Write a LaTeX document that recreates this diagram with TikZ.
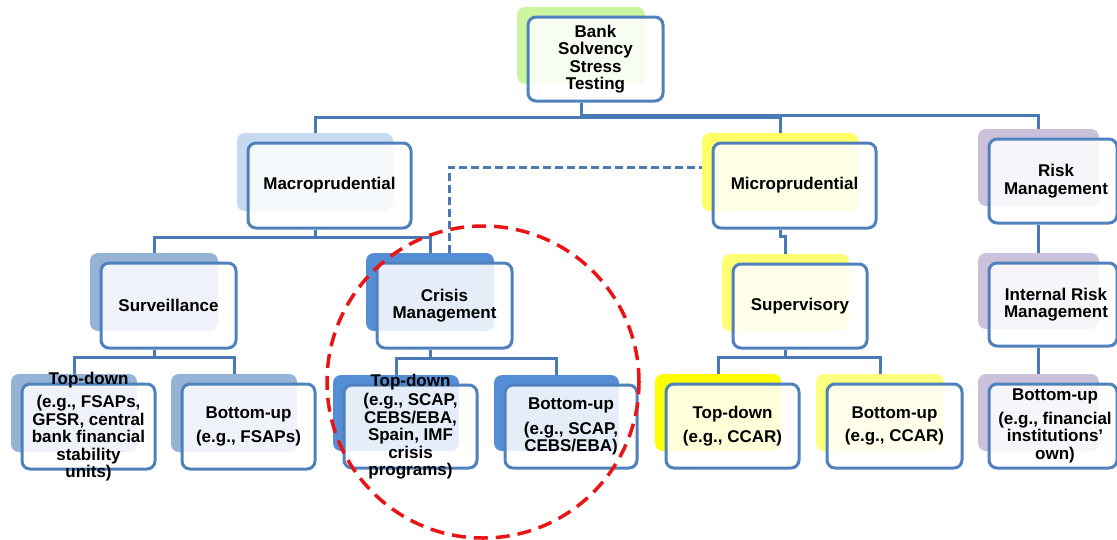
\documentclass[tikz,border=0pt]{standalone}
\usepackage{fontspec}
\setmainfont{Liberation Sans}
\definecolor{boxblue}{RGB}{79,129,189}
\definecolor{connblue}{RGB}{74,122,182}
\definecolor{ringred}{RGB}{235,20,20}
\definecolor{bankG}{RGB}{204,245,160}
\definecolor{macroC}{RGB}{198,217,241}
\definecolor{survC}{RGB}{149,179,215}
\definecolor{crisC}{RGB}{85,142,213}
\definecolor{microY}{RGB}{255,255,102}
\definecolor{supY}{RGB}{255,255,115}
\definecolor{tdY}{RGB}{255,255,0}
\definecolor{buY}{RGB}{255,255,128}
\definecolor{purpC}{RGB}{204,193,218}
\tikzset{
  frontbox/.style={draw=boxblue, line width=3pt, rounded corners=8pt, fill=white, fill opacity=0.85, inner sep=0pt},
  backbox/.style={rounded corners=8pt, inner sep=0pt, draw=none},
  txt/.style={font=\bfseries\fontsize{17}{17.5}\selectfont, align=center, inner sep=0pt, text=black},
  conn/.style={draw=connblue, line width=3pt},
  dconn/.style={conn, dash pattern=on 8pt off 4pt},
  redring/.style={draw=ringred, line width=3.5pt, dash pattern=on 14pt off 8pt, circle, inner sep=0pt}
}
% name, cx, cy, w, h, shadow colour
\newcommand\SABox[6]{%
  \node[backbox, fill=#6, minimum width=#4pt-7pt, minimum height=#5pt-7pt] (#1-s) at (#2-14.5,#3-13.5) {};
  \node[frontbox, minimum width=#4pt, minimum height=#5pt] (#1) at (#2,#3) {};
}
\begin{document}
\begin{tikzpicture}[x=1pt,y=-1pt]
\fill[white] (0,0) rectangle (1117,539);
\useasboundingbox (0,0) rectangle (1117,539);

\SABox{bank}{595.5}{59}{135}{84}{bankG}
\SABox{macro}{329.5}{185.5}{163}{85}{macroC}
\SABox{micro}{794.5}{185.5}{163}{85}{microY}
\SABox{risk}{1053}{181}{128}{84}{purpC}
\SABox{surv}{168.5}{305.5}{135}{85}{survC}
\SABox{crisis}{444.5}{305.5}{135}{85}{crisC}
\SABox{sup}{800}{306}{134}{84}{supY}
\SABox{int}{1053}{304.5}{128}{83}{purpC}
\SABox{ltd}{88.5}{426.5}{133}{85}{survC}
\SABox{lbu}{248.5}{426.5}{133}{85}{survC}
\SABox{ctd}{410.5}{426.5}{133}{83}{crisC}
\SABox{cbu}{571}{426.5}{132}{83}{crisC}
\SABox{ttd}{732.5}{426}{133}{84}{tdY}
\SABox{tbu}{894.5}{426}{135}{84}{buY}
\SABox{rbu}{1053}{426}{128}{84}{purpC}

\node[txt] (bank-t) at (bank) {Bank\\Solvency\\Stress\\Testing};
\node[txt] (macro-t) at (macro) {Macroprudential};
\node[txt] (micro-t) at (micro) {Microprudential};
\node[txt] (risk-t) at ([xshift=3pt]risk) {Risk\\Management};
\node[txt] (surv-t) at (surv) {Surveillance};
\node[txt] (crisis-t) at (crisis) {Crisis\\Management};
\node[txt] (sup-t) at (sup) {Supervisory};
\node[txt] (int-t) at ([xshift=3pt]int) {Internal Risk\\Management};
\node[txt] (ltd-t) at (ltd) {Top-down\\[6pt](e.g., FSAPs,\\GFSR, central\\bank financial\\stability\\units)};
\node[txt] (lbu-t) at (lbu) {Bottom-up\\[6pt](e.g., FSAPs)};
\node[txt] (ctd-t) at (ctd) {Top-down\\[2pt](e.g., SCAP,\\CEBS/EBA,\\Spain, IMF\\crisis\\programs)};
\node[txt] (cbu-t) at (cbu) {Bottom-up\\[7pt](e.g., SCAP,\\CEBS/EBA)};
\node[txt] (ttd-t) at (ttd) {Top-down\\[6pt](e.g., CCAR)};
\node[txt] (tbu-t) at (tbu) {Bottom-up\\[6pt](e.g., CCAR)};
\node[txt] (rbu-t) at ([xshift=2pt]rbu) {Bottom-up\\[6pt](e.g., financial\\institutions’\\own)};

\coordinate (busA) at (0,117);
\coordinate (busB) at (0,115.5);
\coordinate (busM) at (0,237);
\coordinate (busS) at (0,236);
\coordinate (busL) at (0,357);
\coordinate (busC) at (0,358);
\coordinate (busP) at (0,357);

\draw[conn] (bank-s.center |- bank.south) -- (bank-s.center |- busA) -| (macro-s.north);
\draw[conn] (bank-s.center |- bank.south) -- (bank-s.center |- busA) -| (micro-s.north);
\draw[conn] (bank-s.center |- bank.south) -- (bank-s.center |- busB) -| (risk-s.north);

\draw[conn] (macro-s.center |- macro.south) -- (macro-s.center |- busM) -| (surv-s.north);
\draw[conn] (macro-s.center |- macro.south) -- (macro-s.center |- busM) -| (crisis-s.north);
\draw[conn] (micro-s.center |- micro.south) -- (micro-s.center |- busS) -| (sup-s.north);
\draw[conn] (risk-s.center |- risk.south) -- (int-s.north);

\draw[conn] (surv-s.center |- surv.south) -- (surv-s.center |- busL) -| (ltd-s.north);
\draw[conn] (surv-s.center |- surv.south) -- (surv-s.center |- busL) -| (lbu-s.north);
\draw[conn] (crisis-s.center |- crisis.south) -- (crisis-s.center |- busC) -| (ctd-s.north);
\draw[conn] (crisis-s.center |- crisis.south) -- (crisis-s.center |- busC) -| (cbu-s.north);
\draw[conn] (sup-s.center |- sup.south) -- (sup-s.center |- busP) -| (ttd-s.north);
\draw[conn] (sup-s.center |- sup.south) -- (sup-s.center |- busP) -| (tbu-s.north);
\draw[conn] (int-s.center |- int.south) -- (rbu-s.north);

\draw[dconn] ([xshift=19pt]crisis-s.north) |- ([yshift=5pt]micro-s.west);

\node[redring, minimum size=312pt] (focus) at (483,382) {};
\end{tikzpicture}
\end{document}
